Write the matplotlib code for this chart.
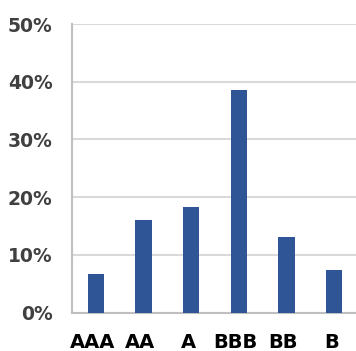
import matplotlib
matplotlib.use("Agg")
import matplotlib.pyplot as plt
import matplotlib.transforms as mtransforms
import numpy as np

# ratingi in deleži (v %)
ratingi = ["AAA", "AA", "A", "BBB", "BB", "B"]
delezi = [6.7, 16.1, 18.2, 38.6, 13.1, 7.3]
yticki = [0, 10, 20, 30, 40, 50]

fig = plt.figure(figsize=(3.56, 3.51), dpi=100)
ax = fig.add_axes([72/356, 1 - 312.5/351, 286/356, 288.5/351])

x = np.arange(len(ratingi))
ax.bar(x, delezi, width=0.34, color="#2F5597", zorder=3)

ax.set_xlim(-0.5, len(ratingi) - 0.5)
ax.set_ylim(0, 50)
ax.set_yticks(yticki)
ax.set_yticklabels(["%d%%" % t for t in yticki])
ax.set_xticks(x)
ax.set_xticklabels(ratingi)

ax.grid(axis="y", color="#d9d9d9", linewidth=1.5, zorder=0)
ax.set_axisbelow(True)
for s in ["top", "right"]:
    ax.spines[s].set_visible(False)
ax.spines["left"].set_color("#bfbfbf")
ax.spines["left"].set_linewidth(1.5)
ax.spines["bottom"].set_color("#bfbfbf")
ax.spines["bottom"].set_linewidth(1.5)

ax.tick_params(axis="both", length=0)
ax.tick_params(axis="y", pad=14, labelsize=13.5, labelcolor="#404040")
ax.tick_params(axis="x", pad=15, labelsize=14, labelcolor="black")
# x oznake so malo zamaknjene v levo
zamik = mtransforms.ScaledTranslation(-3/100, 0, fig.dpi_scale_trans)
for lab in ax.get_xticklabels():
    lab.set_transform(lab.get_transform() + zamik)
for lab in ax.get_xticklabels() + ax.get_yticklabels():
    lab.set_fontweight("bold")

plt.savefig("out.png", dpi=100)
